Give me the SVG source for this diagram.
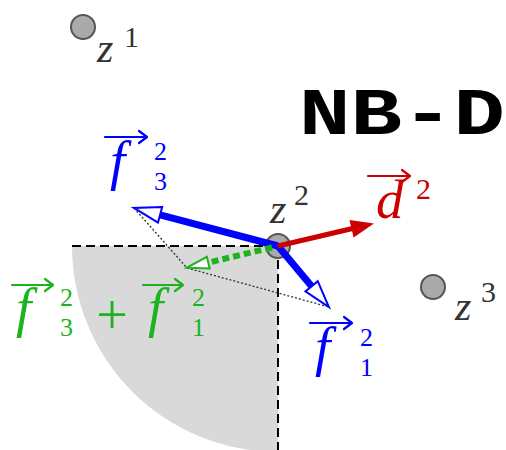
<svg xmlns="http://www.w3.org/2000/svg" width="506" height="450" viewBox="0 0 506 450">
<style>
.node{fill:#aaaaaa;stroke:#555555;stroke-width:2}
.zl{font-family:"Liberation Serif",serif;font-style:italic;font-size:42px;fill:#333333}
.sup{font-family:"Liberation Serif",serif;font-size:30px}
.scr{font-family:"Liberation Serif",serif;font-size:26px}
.vf{font-family:"Liberation Serif",serif;font-style:italic;font-size:55px}
.dash{stroke:#000;stroke-width:2;stroke-dasharray:9 5;fill:none}
.dot{stroke:#333;stroke-width:1.3;stroke-dasharray:2 2;fill:none}
.acc{fill:none;stroke-width:2.2;stroke-linecap:round;stroke-linejoin:round}
</style>
<defs>
<marker id="openBlue" markerUnits="userSpaceOnUse" viewBox="-2 -10 32 20" refX="0" refY="0" markerWidth="32" markerHeight="20" orient="auto" overflow="visible">
<path d="M0,-8 L27,0 L0,8 Z" fill="#fff" stroke="#0000ff" stroke-width="2"/>
</marker>
<marker id="openGreen" markerUnits="userSpaceOnUse" viewBox="-2 -8 26 16" refX="0" refY="0" markerWidth="26" markerHeight="16" orient="auto" overflow="visible">
<path d="M0,-6 L22,0 L0,6 Z" fill="#fff" stroke="#1db31d" stroke-width="2"/>
</marker>
<marker id="fillRed" markerUnits="userSpaceOnUse" viewBox="-2 -10 24 20" refX="0" refY="0" markerWidth="24" markerHeight="20" orient="auto" overflow="visible">
<path d="M-2,-9 L21,0 L-2,9 Z" fill="#cc0000"/>
</marker>
</defs>

<g id="region">
<path d="M278,246 L72,246 A206,206 0 0,0 278,452 Z" fill="#d9d9d9"/>
<line class="dash" x1="72" y1="246" x2="278" y2="246"/>
<line class="dash" x1="278" y1="246" x2="278" y2="452"/>
</g>

<g id="title">
<text x="299" y="134" font-family="'Liberation Mono',monospace" font-weight="bold" font-size="66" textLength="206" lengthAdjust="spacingAndGlyphs">NB-D</text>
</g>

<g id="z1">
<circle class="node" cx="83" cy="27" r="12"/>
<text class="zl" x="97" y="62">z</text>
<text class="sup" x="124" y="47" fill="#333">1</text>
</g>

<g id="z3">
<circle class="node" cx="433" cy="287" r="12"/>
<text class="zl" x="455" y="320">z</text>
<text class="sup" x="481" y="302" fill="#333">3</text>
</g>

<g id="z2">
<circle class="node" cx="278" cy="246" r="12"/>
<text class="zl" x="270" y="223">z</text>
<text class="sup" x="294" y="205" fill="#333">2</text>
</g>

<g id="connectors">
<line class="dot" x1="134" y1="208" x2="187" y2="268"/>
<line class="dot" x1="187" y1="268" x2="329" y2="307"/>
<line x1="278" y1="246" x2="160.1" y2="214.8" stroke="#0000ff" stroke-width="7" marker-end="url(#openBlue)"/>
<line x1="278" y1="246" x2="311.6" y2="286.3" stroke="#0000ff" stroke-width="7" marker-end="url(#openBlue)"/>
<line x1="278" y1="246" x2="353.5" y2="228.3" stroke="#cc0000" stroke-width="5" marker-end="url(#fillRed)"/>
<line x1="272" y1="247.5" x2="208.3" y2="262.6" stroke="#1db31d" stroke-width="6" stroke-dasharray="7 4" marker-end="url(#openGreen)"/>
</g>

<g id="label-f3" fill="#0000ff">
<path class="acc" stroke="#0000ff" d="M105,137 H147 M139,131 L147,137 L139,143"/>
<text class="vf" x="110" y="179">f</text>
<text class="scr" x="154" y="160">2</text>
<text class="scr" x="154" y="190">3</text>
</g>

<g id="label-f1" fill="#0000ff">
<path class="acc" stroke="#0000ff" d="M310,323 H352 M344,317 L352,323 L344,329"/>
<text class="vf" x="315" y="365">f</text>
<text class="scr" x="360" y="346">2</text>
<text class="scr" x="360" y="376">1</text>
</g>

<g id="label-sum" fill="#1db31d">
<path class="acc" stroke="#1db31d" d="M12,285 H53 M45,279 L53,285 L45,291"/>
<text class="vf" x="16" y="326">f</text>
<text class="scr" x="60" y="306">2</text>
<text class="scr" x="60" y="336">3</text>
<text x="112" y="334" text-anchor="middle" font-family="'Liberation Serif',serif" font-size="56">+</text>
<path class="acc" stroke="#1db31d" d="M143,285 H183 M175,279 L183,285 L175,291"/>
<text class="vf" x="148" y="326">f</text>
<text class="scr" x="192" y="306">2</text>
<text class="scr" x="192" y="336">1</text>
</g>

<g id="label-d2" fill="#cc0000">
<path class="acc" stroke="#cc0000" d="M368,176 H410 M402,170 L410,176 L402,182"/>
<text class="vf" x="376" y="218">d</text>
<text class="sup" x="416" y="199">2</text>
</g>
</svg>
